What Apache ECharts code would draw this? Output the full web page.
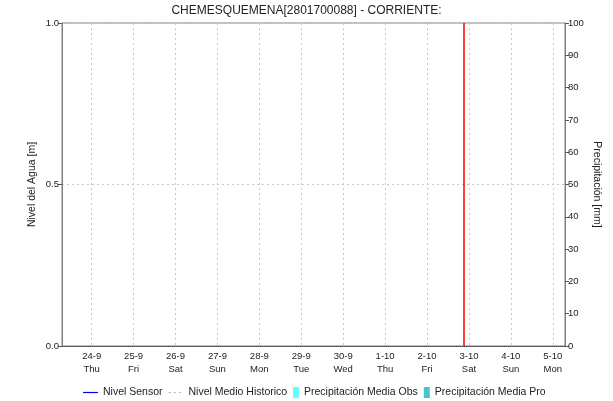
<!DOCTYPE html>
<html>
<head>
<meta charset="utf-8">
<script src="https://cdn.jsdelivr.net/npm/echarts@6/dist/echarts.min.js"></script>
<style>html,body{margin:0;padding:0;background:#fff;}#c{width:613px;height:401px;}</style>
</head>
<body>
<div id="c"></div>
<script>
// ---- data ----
var titleText = 'CHEMESQUEMENA[2801700088] - CORRIENTE:';
var xStart = [2020, 8, 23, 7, 0];   // 23-9 07:00
var xEnd = [2020, 9, 5, 7, 0];      // 5-10 07:00
var nowMark = [2020, 9, 2, 21, 0];  // red vertical line
var dayTicks = [[2020, 8, 24], [2020, 8, 25], [2020, 8, 26], [2020, 8, 27], [2020, 8, 28], [2020, 8, 29],
                [2020, 8, 30], [2020, 9, 1], [2020, 9, 2], [2020, 9, 3], [2020, 9, 4], [2020, 9, 5]];
var dayNames = ['Sun', 'Mon', 'Tue', 'Wed', 'Thu', 'Fri', 'Sat'];
var nivelSensor = [];
var nivelMedioHistorico = [];
var precipMediaObs = [];
var precipMediaPro = [];
var leftTicks = [0, 0.5, 1];
var rightTicks = [0, 10, 20, 30, 40, 50, 60, 70, 80, 90, 100];

function t(a) { return new Date(a[0], a[1], a[2], a[3] || 0, a[4] || 0).getTime(); }
var dayVals = dayTicks.map(function (d) { return t(d); });
var font = 'Liberation Sans, Arial, sans-serif';
var legendText = {fontSize: 10.5, color: '#222', fontFamily: font};
var chart = echarts.init(document.getElementById('c'), null, {renderer: 'canvas'});
chart.setOption({
  animation: false,
  backgroundColor: '#fff',
  textStyle: {fontFamily: font},
  title: {
    text: titleText, left: 'center', top: 0,
    textStyle: {fontSize: 12, fontWeight: 'normal', color: '#222', fontFamily: font}
  },
  grid: {left: 62, right: 48, top: 23, bottom: 55, show: true, borderColor: '#808080', borderWidth: 1, containLabel: false},
  legend: [{
    bottom: 3, left: 83, padding: 0, itemWidth: 15, itemHeight: 10, itemGap: 6,
    textStyle: legendText,
    data: [
      {name: 'Nivel Sensor', icon: 'path://M0,0 L15,0 L15,1.2 L0,1.2 Z', itemStyle: {color: '#0000ff'}},
      {name: 'Nivel Medio Historico', icon: 'path://M0,0h2.5v1.2h-2.5z M5,0h2.5v1.2h-2.5z M10,0h2.5v1.2h-2.5z M15,0h0.01v1.2h-0.01z', itemStyle: {color: '#c0c0c0'}}
    ]
  }, {
    bottom: 3, left: 293, padding: 0, itemWidth: 6, itemHeight: 11, itemGap: 6,
    textStyle: legendText,
    data: [
      {name: 'Precipitación Media Obs', icon: 'rect'},
      {name: 'Precipitación Media Pro', icon: 'rect'}
    ]
  }],
  xAxis: {
    type: 'value', min: t(xStart), max: t(xEnd),
    axisLine: {lineStyle: {color: '#444', type: 'dotted', width: 1}},
    axisTick: {show: false, customValues: dayVals},
    splitLine: {show: true, lineStyle: {color: '#c8c8c8', type: [2, 3]}},
    axisLabel: {
      customValues: dayVals,
      fontSize: 9.5, color: '#222', lineHeight: 13, margin: 4, fontFamily: font,
      formatter: function (v) { var d = new Date(v); return d.getDate() + '-' + (d.getMonth() + 1) + '\n' + dayNames[d.getDay()]; }
    }
  },
  yAxis: [{
    type: 'value', min: leftTicks[0], max: leftTicks[leftTicks.length - 1], interval: 0.5,
    name: 'Nivel del Agua [m]', nameLocation: 'middle', nameGap: 24, nameRotate: 90, nameMoveOverlap: false,
    nameTextStyle: {fontSize: 10.5, color: '#222', fontFamily: font},
    axisLine: {show: true, lineStyle: {color: '#808080'}},
    axisTick: {show: true, length: 4, lineStyle: {color: '#555'}},
    splitLine: {show: true, lineStyle: {color: '#c8c8c8', type: [2, 3]}},
    axisLabel: {fontSize: 9.5, color: '#222', margin: 3, formatter: function (v) { return v.toFixed(1); }}
  }, {
    type: 'value', min: rightTicks[0], max: rightTicks[rightTicks.length - 1], interval: 10, position: 'right',
    name: 'Precipitación [mm]', nameLocation: 'middle', nameGap: 26, nameRotate: -90, nameMoveOverlap: false,
    nameTextStyle: {fontSize: 10.5, color: '#222', fontFamily: font},
    axisLine: {show: true, lineStyle: {color: '#808080'}},
    axisTick: {show: true, length: 4, lineStyle: {color: '#555'}},
    splitLine: {show: false},
    axisLabel: {fontSize: 9.5, color: '#222', margin: 3}
  }],
  series: [
    {name: 'Nivel Sensor', type: 'line', symbol: 'none', data: nivelSensor, lineStyle: {color: '#0000ff', width: 1}, itemStyle: {color: '#0000ff'},
      markLine: {silent: true, symbol: 'none', label: {show: false}, lineStyle: {color: '#ff0000', type: 'solid', width: 1.5},
        data: [{xAxis: t(nowMark)}]}},
    {name: 'Nivel Medio Historico', type: 'line', symbol: 'none', data: nivelMedioHistorico, lineStyle: {color: '#c0c0c0', type: [3, 3], width: 1.5}, itemStyle: {color: '#c0c0c0'}},
    {name: 'Precipitación Media Obs', type: 'bar', yAxisIndex: 1, data: precipMediaObs, itemStyle: {color: '#66ffff'}},
    {name: 'Precipitación Media Pro', type: 'bar', yAxisIndex: 1, data: precipMediaPro, itemStyle: {color: '#44c8c8'}}
  ]
});
</script>
</body>
</html>
